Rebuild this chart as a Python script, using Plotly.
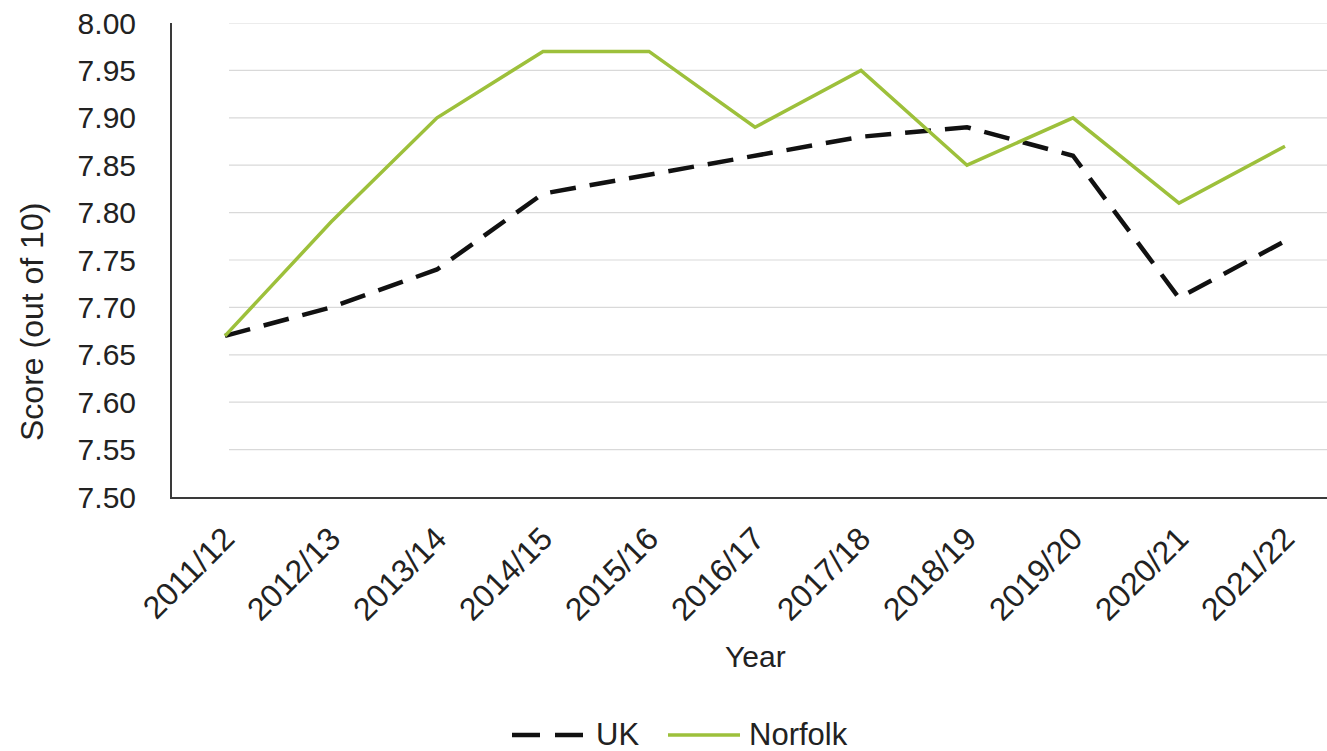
import plotly.graph_objects as go

# Survey years (categories on the x axis)
years = ["2011/12", "2012/13", "2013/14", "2014/15", "2015/16", "2016/17",
         "2017/18", "2018/19", "2019/20", "2020/21", "2021/22"]

# Mean scores out of 10
uk_scores = [7.67, 7.70, 7.74, 7.82, 7.84, 7.86, 7.88, 7.89, 7.86, 7.71, 7.77]
norfolk_scores = [7.67, 7.79, 7.90, 7.97, 7.97, 7.89, 7.95, 7.85, 7.90, 7.81, 7.87]

# Y-axis tick values
y_ticks = [7.50, 7.55, 7.60, 7.65, 7.70, 7.75, 7.80, 7.85, 7.90, 7.95, 8.00]

W, H = 1327, 751
ML, MR, MT, MB = 172, 0, 23, 254
PW, PH = W - ML - MR, H - MT - MB
STEP = 106.0  # pixel spacing between categories

GREEN = "#9dc03b"
TEXT = "#222222"
FONT = "Liberation Sans, Arial, sans-serif"


def px_x(px):
    return (px - ML) / PW


def px_y(py):
    return (H - MB - py) / PH


fig = go.Figure()

fig.add_trace(go.Scatter(
    x=years, y=uk_scores, name="UK", mode="lines",
    line=dict(color="#111111", width=4.5, dash="26px,14px"),
    showlegend=False,
))
fig.add_trace(go.Scatter(
    x=years, y=norfolk_scores, name="Norfolk", mode="lines",
    line=dict(color=GREEN, width=3.5),
    showlegend=False,
))

# Horizontal gridlines, starting just inside the plot area
shapes = []
for v in y_ticks[1:]:
    shapes.append(dict(type="line", xref="paper", yref="y",
                       x0=px_x(229), x1=1, y0=v, y1=v,
                       line=dict(color="#d9d9d9", width=1.2), layer="below"))

# Legend keys
leg_y = px_y(735)
shapes.append(dict(type="line", xref="paper", yref="paper",
                   x0=px_x(512), x1=px_x(584), y0=leg_y, y1=leg_y,
                   line=dict(color="#111111", width=4.5, dash="28px,15px")))
shapes.append(dict(type="line", xref="paper", yref="paper",
                   x0=px_x(668), x1=px_x(740), y0=leg_y, y1=leg_y,
                   line=dict(color=GREEN, width=3.5)))

annotations = [
    dict(text="Score (out of 10)", xref="paper", yref="paper",
         x=px_x(32), y=px_y(322), textangle=-90, showarrow=False,
         xanchor="center", yanchor="middle",
         font=dict(size=32, color=TEXT, family=FONT)),
    dict(text="Year", xref="paper", yref="paper",
         x=px_x(755), y=px_y(657), showarrow=False,
         xanchor="center", yanchor="middle",
         font=dict(size=30, color=TEXT, family=FONT)),
    dict(text="UK", xref="paper", yref="paper",
         x=px_x(594), y=leg_y, showarrow=False,
         xanchor="left", yanchor="middle",
         font=dict(size=31, color=TEXT, family=FONT)),
    dict(text="Norfolk", xref="paper", yref="paper",
         x=px_x(747), y=leg_y, showarrow=False,
         xanchor="left", yanchor="middle",
         font=dict(size=31, color=TEXT, family=FONT)),
]

fig.update_layout(
    width=W, height=H,
    margin=dict(l=ML, r=MR, t=MT, b=MB, pad=0),
    paper_bgcolor="white", plot_bgcolor="white",
    font=dict(family=FONT, color=TEXT),
    shapes=shapes,
    annotations=annotations,
    showlegend=False,
)

fig.update_xaxes(
    type="category",
    range=[-0.5, -0.5 + PW / STEP],
    showgrid=False, zeroline=False,
    showline=True, linecolor="#3a3a3a", linewidth=2,
    ticks="", tickangle=-45,
    tickfont=dict(size=32, color=TEXT, family=FONT),
    ticklabelstandoff=8,
)
fig.update_yaxes(
    range=[7.5, 8.0],
    tickvals=y_ticks, tickformat=".2f",
    showgrid=False, zeroline=False,
    showline=True, linecolor="#3a3a3a", linewidth=2,
    ticks="",
    tickfont=dict(size=30, color=TEXT, family=FONT),
    ticklabelstandoff=28,
)

fig.write_html("out.html")
